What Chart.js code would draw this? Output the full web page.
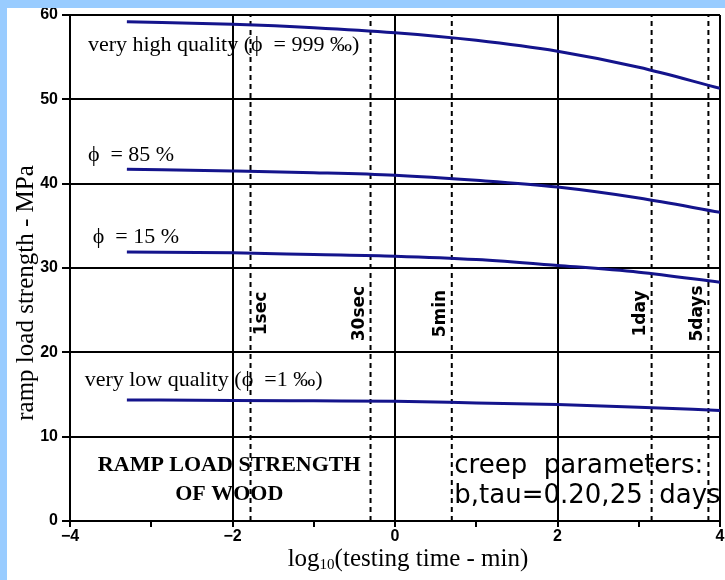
<!DOCTYPE html>
<html>
<head>
<meta charset="utf-8">
<script src="https://cdn.jsdelivr.net/npm/chart.js@4.4.0/dist/chart.umd.min.js"></script>
<style>
  html, body { margin: 0; padding: 0; }
  body { width: 725px; height: 580px; background: #99ccff; overflow: hidden; position: relative; }
  #wrap { position: absolute; left: 7px; top: 8px; width: 718px; height: 572px; background: #fff; }
</style>
</head>
<body>
<div id="wrap"><canvas id="chart" width="718" height="572"></canvas></div>
<script>
// Data (log10 of testing time in minutes vs strength in MPa)
const timeX = [-3.3, -2, -1, 0, 1, 2, 3, 4];
const veryHigh = [59.2, 58.9, 58.5, 57.9, 57.0, 55.7, 53.8, 51.3];
const phi85 = [41.7, 41.5, 41.3, 41.0, 40.4, 39.6, 38.3, 36.6];
const phi15 = [31.9, 31.8, 31.6, 31.4, 31.0, 30.3, 29.5, 28.3];
const veryLow = [14.35, 14.3, 14.25, 14.2, 14.0, 13.8, 13.5, 13.1];

// Reference durations (log10 minutes)
const markerNames = ['1sec', '30sec', '5min', '1day', '5days'];
const markerX = [Math.log10(1 / 60), Math.log10(0.5), Math.log10(5), Math.log10(1440), Math.log10(7200)];

const curveLabels = ['very high quality (\u03d5  = 999 \u2030)', '\u03d5  = 85 %', '\u03d5  = 15 %', 'very low quality (\u03d5  =1 \u2030)'];

const LINE_BLUE = '#14148c';

function toPoints(xs, ys) {
    return xs.map((x, i) => ({ x: x, y: ys[i] }));
}

const curveSets = [veryHigh, phi85, phi15, veryLow].map(vals => ({
    data: toPoints(timeX, vals),
    borderColor: LINE_BLUE,
    borderWidth: 3,
    pointRadius: 0,
    showLine: true,
    cubicInterpolationMode: 'monotone'
}));

const markerSets = markerX.map(x => ({
    data: [{ x: x, y: 0 }, { x: x, y: 60 }],
    borderColor: '#000',
    borderWidth: 2,
    borderDash: [5, 4],
    pointRadius: 0,
    showLine: true
}));

// Text drawn on top of the chart
const textPlugin = {
    id: 'texts',
    afterDraw(chart) {
        const ctx = chart.ctx;
        const xs = chart.scales.x, ys = chart.scales.y;
        ctx.save();
        ctx.fillStyle = '#000';
        ctx.textBaseline = 'middle';

        // curve labels
        ctx.font = '22px "Liberation Serif", serif';
        ctx.textAlign = 'left';
        const labelPos = [[-3.78, 56.4], [-3.78, 43.4], [-3.72, 33.7], [-3.82, 16.7]];
        curveLabels.forEach((t, i) => {
            ctx.fillText(t, xs.getPixelForValue(labelPos[i][0]), ys.getPixelForValue(labelPos[i][1]));
        });

        // marker labels (rotated)
        ctx.font = 'bold 17px "DejaVu Sans", sans-serif';
        ctx.textAlign = 'center';
        markerNames.forEach((t, i) => {
            const px = xs.getPixelForValue(markerX[i]) + (i === 0 ? 11 : -11);
            const py = ys.getPixelForValue(24.6);
            ctx.save();
            ctx.translate(px, py);
            ctx.rotate(-Math.PI / 2);
            ctx.fillText(t, 0, 0);
            ctx.restore();
        });

        // box title
        ctx.font = 'bold 22px "Liberation Serif", serif';
        ctx.textAlign = 'center';
        const cx = xs.getPixelForValue(-2.04);
        ctx.fillText('RAMP LOAD STRENGTH', cx, ys.getPixelForValue(6.6));
        ctx.fillText('OF WOOD', cx, ys.getPixelForValue(3.2));

        // creep parameters
        ctx.font = '26px "DejaVu Sans", sans-serif';
        ctx.textAlign = 'left';
        const lx = xs.getPixelForValue(0.73);
        ctx.fillText('creep  parameters:', lx, ys.getPixelForValue(6.5));
        ctx.fillText('b,tau=0.20,25  days', lx, ys.getPixelForValue(2.9));

        // y title
        ctx.font = '25px "Liberation Serif", serif';
        ctx.save();
        ctx.translate(19, 285);
        ctx.rotate(-Math.PI / 2);
        ctx.textAlign = 'center';
        ctx.fillText('ramp load strength - MPa', 0, 0);
        ctx.restore();

        // x title with subscript
        const p1 = 'log', p2 = '10', p3 = '(testing time - min)';
        ctx.font = '25px "Liberation Serif", serif';
        const w1 = ctx.measureText(p1).width, w3 = ctx.measureText(p3).width;
        ctx.font = '15px "Liberation Serif", serif';
        const w2 = ctx.measureText(p2).width;
        let tx = 401 - (w1 + w2 + w3) / 2;
        const ty = 551;
        ctx.textAlign = 'left';
        ctx.font = '25px "Liberation Serif", serif';
        ctx.fillText(p1, tx, ty);
        tx += w1;
        ctx.font = '15px "Liberation Serif", serif';
        ctx.fillText(p2, tx, ty + 6);
        tx += w2;
        ctx.font = '25px "Liberation Serif", serif';
        ctx.fillText(p3, tx, ty);
        ctx.restore();
    }
};

new Chart(document.getElementById('chart'), {
    type: 'scatter',
    data: { datasets: curveSets.concat(markerSets) },
    options: {
        responsive: false,
        animation: false,
        layout: { padding: { top: 7, right: 5, left: 0, bottom: 0 } },
        plugins: {
            legend: { display: false },
            tooltip: { enabled: false }
        },
        scales: {
            x: {
                type: 'linear',
                min: -4,
                max: 4,
                afterFit(scale) {
                    scale.height = 59;
                    scale.paddingLeft = 0;
                    scale.paddingRight = 0;
                },
                ticks: {
                    stepSize: 1,
                    autoSkip: false,
                    maxRotation: 0,
                    padding: 0,
                    color: '#000',
                    font: { family: '"Liberation Sans", sans-serif', size: 16, weight: 'bold' },
                    callback: v => (v % 2 === 0 ? (v < 0 ? '\u2212' + Math.abs(v) : String(v)) : '')
                },
                grid: {
                    color: c => (c.tick && c.tick.value % 2 === 0 ? '#000' : 'rgba(0,0,0,0)'),
                    tickColor: '#000',
                    lineWidth: 2,
                    tickLength: 6
                },
                border: { color: '#000', width: 2 }
            },
            y: {
                min: 0,
                max: 60,
                afterFit(scale) {
                    scale.width = 63;
                    scale.paddingTop = 0;
                    scale.paddingBottom = 0;
                },
                ticks: {
                    stepSize: 10,
                    padding: 4,
                    color: '#000',
                    font: { family: '"Liberation Sans", sans-serif', size: 16, weight: 'bold' }
                },
                grid: {
                    color: '#000',
                    lineWidth: 2,
                    tickLength: 8
                },
                border: { color: '#000', width: 2 }
            }
        }
    },
    plugins: [textPlugin]
});
</script>
</body>
</html>
